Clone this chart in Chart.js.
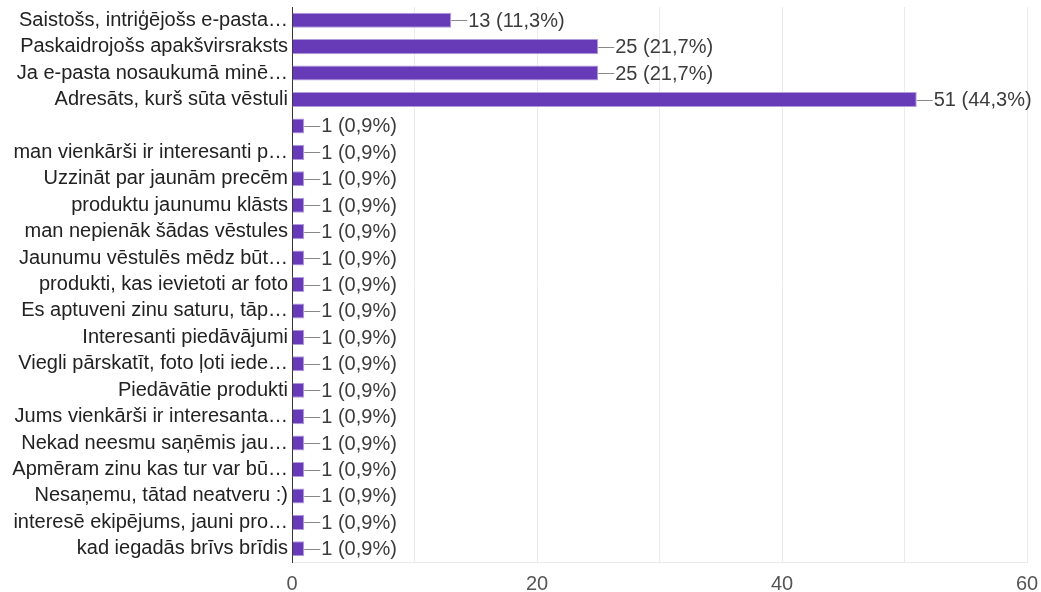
<!DOCTYPE html>
<html>
<head>
<meta charset="utf-8">
<script src="https://cdn.jsdelivr.net/npm/chart.js@4"></script>
<style>
  html, body { margin: 0; padding: 0; background: #fff; }
  #chart { display: block; }
</style>
</head>
<body>
<canvas id="chart" width="1041" height="592"></canvas>
<script>
// answers (labels as shown, already truncated by the form)
const categories = [
    'Saistošs, intriģējošs e-pasta…',
    'Paskaidrojošs apakšvirsraksts',
    'Ja e-pasta nosaukumā minē…',
    'Adresāts, kurš sūta vēstuli',
    '',
    'man vienkārši ir interesanti p…',
    'Uzzināt par jaunām precēm',
    'produktu jaunumu klāsts',
    'man nepienāk šādas vēstules',
    'Jaunumu vēstulēs mēdz būt…',
    'produkti, kas ievietoti ar foto',
    'Es aptuveni zinu saturu, tāp…',
    'Interesanti piedāvājumi',
    'Viegli pārskatīt, foto ļoti iede…',
    'Piedāvātie produkti',
    'Jums vienkārši ir interesanta…',
    'Nekad neesmu saņēmis jau…',
    'Apmēram zinu kas tur var bū…',
    'Nesaņemu, tātad neatveru :)',
    'interesē ekipējums, jauni pro…',
    'kad iegadās brīvs brīdis'
];
const counts = [13, 25, 25, 51, 1, 1, 1, 1, 1, 1, 1, 1, 1, 1, 1, 1, 1, 1, 1, 1, 1];
const percents = ['11,3', '21,7', '21,7', '44,3', '0,9', '0,9', '0,9', '0,9', '0,9', '0,9',
                  '0,9', '0,9', '0,9', '0,9', '0,9', '0,9', '0,9', '0,9', '0,9', '0,9', '0,9'];
const xTicks = [0, 20, 40, 60];

const FONT = '"Liberation Sans", Arial, sans-serif';

// draws the "—13 (11,3%)" annotation after each bar
const valueLabels = {
    id: 'valueLabels',
    afterDatasetsDraw(chart) {
        const ctx = chart.ctx;
        const meta = chart.getDatasetMeta(0);
        ctx.save();
        ctx.font = '20px ' + FONT;
        ctx.textBaseline = 'middle';
        ctx.textAlign = 'left';
        meta.data.forEach((bar, i) => {
            ctx.strokeStyle = '#888';
            ctx.lineWidth = 1;
            ctx.beginPath();
            ctx.moveTo(bar.x, Math.round(bar.y) + 0.5);
            ctx.lineTo(bar.x + 16, Math.round(bar.y) + 0.5);
            ctx.stroke();
            ctx.fillStyle = '#3c3c3c';
            ctx.fillText(counts[i] + ' (' + percents[i] + '%)', bar.x + 17, bar.y + 1);
        });
        ctx.restore();
    }
};

new Chart(document.getElementById('chart').getContext('2d'), {
    type: 'bar',
    data: {
        labels: categories,
        datasets: [{
            data: counts,
            backgroundColor: '#673ab7',
            borderColor: '#b39ddb',
            borderWidth: 1,
            barPercentage: 0.57,
            categoryPercentage: 1.0
        }]
    },
    options: {
        indexAxis: 'y',
        responsive: false,
        animation: false,
        layout: { padding: { top: 7, right: 14, left: 0, bottom: 0 } },
        scales: {
            x: {
                type: 'linear',
                min: 0,
                max: 60,
                afterFit(scale) {
                    scale.height = 30;
                    scale.paddingLeft = 0;
                    scale.paddingRight = 0;
                },
                ticks: {
                    stepSize: 10,
                    padding: 10,
                    color: '#555',
                    font: { family: FONT, size: 20 },
                    callback: v => xTicks.includes(v) ? String(v) : ''
                },
                grid: { color: '#ebebeb', drawTicks: false },
                border: { color: '#ebebeb' }
            },
            y: {
                afterFit(scale) {
                    scale.width = 292;
                    scale.paddingTop = 0;
                    scale.paddingBottom = 0;
                },
                ticks: {
                    padding: 4,
                    color: '#222',
                    autoSkip: false,
                    font: { family: FONT, size: 20 }
                },
                grid: { display: false, drawTicks: false },
                border: { color: '#333', width: 1 }
            }
        },
        plugins: {
            legend: { display: false },
            tooltip: { enabled: false }
        }
    },
    plugins: [valueLabels]
});
</script>
</body>
</html>
